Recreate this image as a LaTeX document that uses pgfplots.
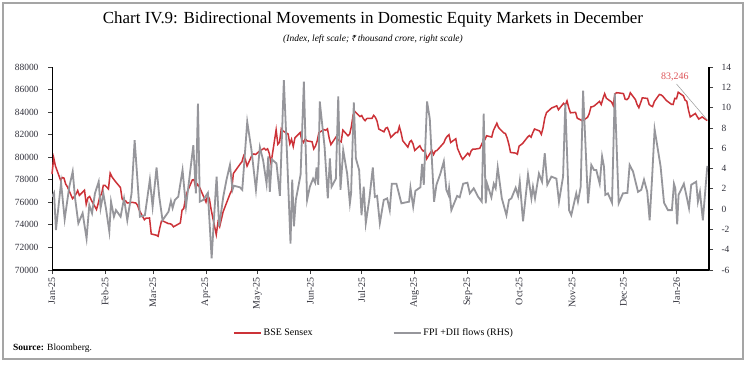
\documentclass[border=0pt]{standalone}
\usepackage{pgfplots}
\pgfplotsset{compat=1.18}
\usepackage{pgfplotstable}
\usepackage{fontspec}
\setmainfont{Liberation Serif}
\newfontfamily\rupeefont{Noto Sans}
\definecolor{sensex}{RGB}{204,50,56}
\definecolor{flows}{RGB}{150,150,155}
\definecolor{annot}{RGB}{222,84,88}
\definecolor{ticklab}{RGB}{50,50,60}
\definecolor{frame}{RGB}{165,165,165}

\pgfplotstableread{
d v
0 78507
1 79943
2 79223
5 77964
6 78199
7 78148
8 77620
9 77379
12 76330
13 76499
14 76724
15 77042
16 76619
19 77073
20 75838
21 76405
22 76520
23 76190
26 75366
27 75901
28 76532
29 76760
30 77501
31 77506
33 77187
34 78584
35 78272
36 78058
37 77860
40 77312
41 76294
42 76171
43 76139
44 75939
47 76001
48 75967
49 75939
50 75736
51 75311
54 74454
55 74602
57 74612
58 73198
61 73086
62 72990
63 73730
64 74340
65 74333
68 74115
69 74102
70 74030
71 73829
75 74170
76 75302
77 75449
78 76348
79 76906
82 77984
83 78017
84 77288
85 77607
86 77415
90 76025
91 76617
92 76295
93 75365
96 73138
97 74227
98 73847
100 75157
104 76735
105 77044
106 78553
110 79409
111 79596
112 80116
113 79801
114 79213
117 80218
118 80288
119 80242
121 80502
124 80797
125 80641
126 80747
127 80334
128 79454
131 82430
132 81148
133 81331
134 82531
135 82331
138 82059
139 81186
140 81597
141 80952
142 81721
145 82176
146 81551
147 81312
148 81633
149 81451
152 81374
153 80737
154 80998
155 81442
156 82189
159 82445
160 82391
161 82515
162 81691
163 81118
166 81796
167 81583
168 81444
169 81362
170 82408
173 81897
174 82055
175 82755
176 83755
177 84058
180 83606
181 83697
182 83409
183 83239
184 83433
187 83442
188 83712
189 83536
190 83190
191 82500
194 82253
195 82570
196 82634
197 82259
198 81757
201 82200
202 82187
203 82726
204 82184
205 81463
208 80891
209 81337
210 81482
211 81186
212 80600
215 81019
216 80710
217 80544
218 80623
219 79858
222 80604
223 80236
224 80540
225 80598
229 81274
230 81644
231 81858
232 82001
233 81307
236 81636
237 80787
239 80081
240 79810
243 80364
244 80158
245 80568
246 80718
247 80711
250 80787
251 81101
252 81425
253 81549
254 81905
257 81786
258 82381
259 82694
260 83013
261 82626
264 82160
265 82102
266 81716
267 81160
268 80426
271 80365
272 80268
273 80983
275 81207
278 81790
279 81927
280 81774
281 82172
282 82501
285 82327
286 82030
287 82605
288 83468
289 83952
292 84363
293 84426
295 84556
296 84212
299 84779
300 84629
301 84997
302 84404
303 83939
306 83979
307 83459
309 83311
310 83216
313 83535
314 83871
315 84467
316 84479
317 84563
320 84950
321 84673
322 85187
323 85632
324 85232
327 84901
328 84588
329 85610
330 85720
331 85707
334 85641
335 85139
336 85107
337 85265
338 85712
341 85103
342 84666
343 84392
344 84818
345 85267
348 85213
349 84680
350 84560
351 84482
352 84929
355 85567
356 85525
357 85408
359 85041
362 84695
363 84675
364 85221
365 85188
366 85762
369 85440
370 85063
371 84961
372 84181
373 83576
376 83878
377 83628
378 83383
380 83570
383 83246
}\sensexdata

\pgfplotstableread{
d v
0 1.22
1.2 1.6
2.3 -2.06
5.3 2.6
7.4 -1.0
10.1 2.2
12.1 3.7
13.4 1.2
15.4 -1.4
17.9 -0.4
20.2 -2.9
21.8 0.4
23.4 -0.4
25.1 1.55
27.3 2.7
28.4 0.1
30.0 1.55
31.5 0.1
33.5 -2.2
34.5 0.73
36.2 -0.75
37.4 -0.1
40.1 -0.75
42.1 1.06
44.0 -1.1
46.5 1.55
48.3 6.8
49.8 3.2
51.4 -0.75
54.3 -0.6
57.2 2.9
58.8 0.24
61.1 4.1
62.7 1.2
64.6 -1.1
68.1 -0.25
69.5 0.8
70.5 0.1
71.8 0.9
73.8 1.22
76.3 3.85
78.3 0.24
82.6 6.3
84.1 1.55
85.3 10.4
86.4 0.73
88.4 0.9
91.1 1.6
93.3 -4.85
94.6 -1.1
96.2 3.2
97.7 -1.7
100.1 1.22
102.0 2.9
104.0 4.35
105.5 1.9
106.3 2.3
109.8 2.15
111.2 1.9
114.1 8.6
116.6 5.8
119.2 1.9
121.5 6.1
123.4 4.8
125.4 2.5
126.4 5.2
127.3 1.7
128.5 4.9
131.2 4.5
133.2 1.3
135.5 12.7
137.5 4.8
139.4 -3.4
140.4 2.9
141.4 -1.7
142.5 0.9
145.3 3.4
147.2 12.55
149.1 0.9
150.7 2.2
152.6 3.0
153.8 2.6
154.6 4.1
155.6 2.4
156.5 10.6
159.3 6.15
161.2 1.06
162.4 5.0
163.4 2.2
165.9 3.0
167.3 11.1
168.6 1.9
170.2 5.8
172.5 3.5
174.1 0.57
174.8 1.55
176.4 10.5
177.6 5.0
179.5 3.85
180.9 -0.6
182.2 2.2
183.4 -1.4
185.4 0.9
187.5 4.1
188.7 1.2
190.0 1.3
191.6 -1.4
193.9 0.9
195.9 1.06
197.4 -0.1
198.6 2.5
201.3 2.5
204.2 0.57
208.7 0.73
209.5 2.1
211.1 0.24
212.4 1.8
215.3 2.15
216.3 4.45
217.3 2.4
219.2 10.6
220.8 8.9
223.3 0.73
224.7 2.4
227.0 3.5
229.0 4.7
230.5 1.9
231.7 1.4
232.1 2.05
233.4 -0.1
236.8 1.3
238.3 1.16
240.3 2.5
242.8 2.6
244.2 1.55
246.5 2.05
249.0 1.22
251.2 0.73
252.3 9.4
253.5 0.57
254.3 2.5
256.8 1.16
258.2 2.5
259.3 2.05
260.5 4.1
262.9 1.06
265.6 -0.6
267.1 0.9
268.5 1.06
271.0 2.1
272.4 1.3
273.4 2.7
275.3 -1.2
278.2 3.4
280.2 1.06
281.1 2.2
282.3 1.06
284.6 3.5
286.4 2.7
288.0 5.5
289.5 2.4
291.9 3.2
294.8 3.0
296.3 0.73
298.7 3.2
300.0 10.4
302.2 -0.1
303.5 -0.6
306.4 1.55
307.4 0.73
309.0 2.2
310.4 11.67
313.3 0.57
315.2 4.35
316.8 3.85
318.1 3.85
320.1 2.5
321.5 5.2
322.6 4.2
323.4 1.4
324.9 1.55
327.3 0.63
328.9 11.4
331.2 0.57
333.7 1.55
336.3 1.6
337.6 4.35
339.6 3.7
342.5 1.7
344.4 1.9
346.0 2.9
347.9 1.7
349.3 -1.1
350.7 3.0
352.2 7.86
355.7 4.2
357.7 0.63
360.0 -0.1
362.3 -0.1
363.5 2.5
364.3 2.05
365.4 -1.5
366.2 1.4
369.3 2.5
370.7 1.4
372.3 0.1
373.6 2.4
376.5 2.7
377.5 0.73
378.7 1.7
380.4 -1.1
383.0 4.25
}\flowsdata

\begin{document}
\begin{tikzpicture}[x=1bp,y=1bp]
\useasboundingbox (0,0) rectangle (746,364);
\fill[white] (0,0) rectangle (746,364);
\draw[frame, line width=1.2bp] (3,5) rectangle (743,361);
\node[font=\fontsize{17}{20}\selectfont] at (373,345) {Chart IV.9: Bidirectional Movements in Domestic Equity Markets in December};
\node[font=\fontsize{9.5}{11}\selectfont\itshape] at (373,325) {(Index, left scale; {\rupeefont\fontsize{8.5}{10}\selectfont ₹}\,thousand crore, right scale)};
\node[anchor=west, inner sep=0pt, font=\fontsize{9.5}{11}\selectfont] at (13,16) {\textbf{Source:} Bloomberg.};

\begin{axis}[
  at={(52bp,94bp)}, anchor=south west, scale only axis,
  width=657bp, height=203bp,
  xmin=0, xmax=384, ymin=70000, ymax=88000,
  axis x line*=bottom, axis y line*=left,
  x axis line style={line width=1.6bp, black},
  y axis line style={line width=0.8bp, black},
  xtick={0,31,59,90,120,151,181,212,243,273,304,334,365},
  xticklabels={Jan-25,Feb-25,Mar-25,Apr-25,May-25,Jun-25,Jul-25,Aug-25,Sep-25,Oct-25,Nov-25,Dec-25,Jan-26},
  ytick={70000,72000,...,88000},
  scaled y ticks=false,
  tick align=outside, major tick length=4bp,
  tick style={black!75, line width=0.8bp},
  x tick label style={rotate=90, anchor=east, font=\fontsize{10}{12}\selectfont, text=ticklab},
  y tick label style={font=\fontsize{9.5}{11}\selectfont, text=ticklab, xshift=-6bp},
  /pgf/number format/1000 sep={},
  /pgf/number format/assume math mode=true,
  clip=false,
]
\addplot[sensex, line width=1.5bp] table[x=d,y=v] {\sensexdata};
\node[annot, font=\fontsize{10}{12}\selectfont] at (axis cs:364,87113) {83,246};
\draw[black!40, line width=0.5bp] (axis cs:365,86493) -- (axis cs:383,83300);
\end{axis}

\begin{axis}[
  at={(52bp,94bp)}, anchor=south west, scale only axis,
  width=657bp, height=203bp,
  xmin=0, xmax=384, ymin=-6, ymax=14,
  axis x line=none, axis y line*=right,
  y axis line style={line width=1.8bp, black},
  ytick={-6,-4,...,14},
  tick align=outside, major tick length=4bp,
  tick style={black!75, line width=0.8bp},
  y tick label style={font=\fontsize{9.5}{11}\selectfont, text=ticklab, xshift=5bp},
  /pgf/number format/assume math mode=true,
  legend columns=2,
  legend style={at={(0.2755,-0.31)}, anchor=west, draw=none, fill=none,
    inner sep=0pt, font=\fontsize{10}{12}\selectfont,
    /tikz/every even column/.append style={column sep=78bp}},
  legend image code/.code={\draw[#1] (0bp,0bp) -- (27bp,0bp);},
]
\addlegendimage{sensex, line width=1.5bp}
\addlegendentry{BSE Sensex}
\addplot[flows, line width=1.8bp] table[x=d,y=v] {\flowsdata};
\addlegendentry{FPI +DII flows (RHS)}
\end{axis}
\end{tikzpicture}
\end{document}
